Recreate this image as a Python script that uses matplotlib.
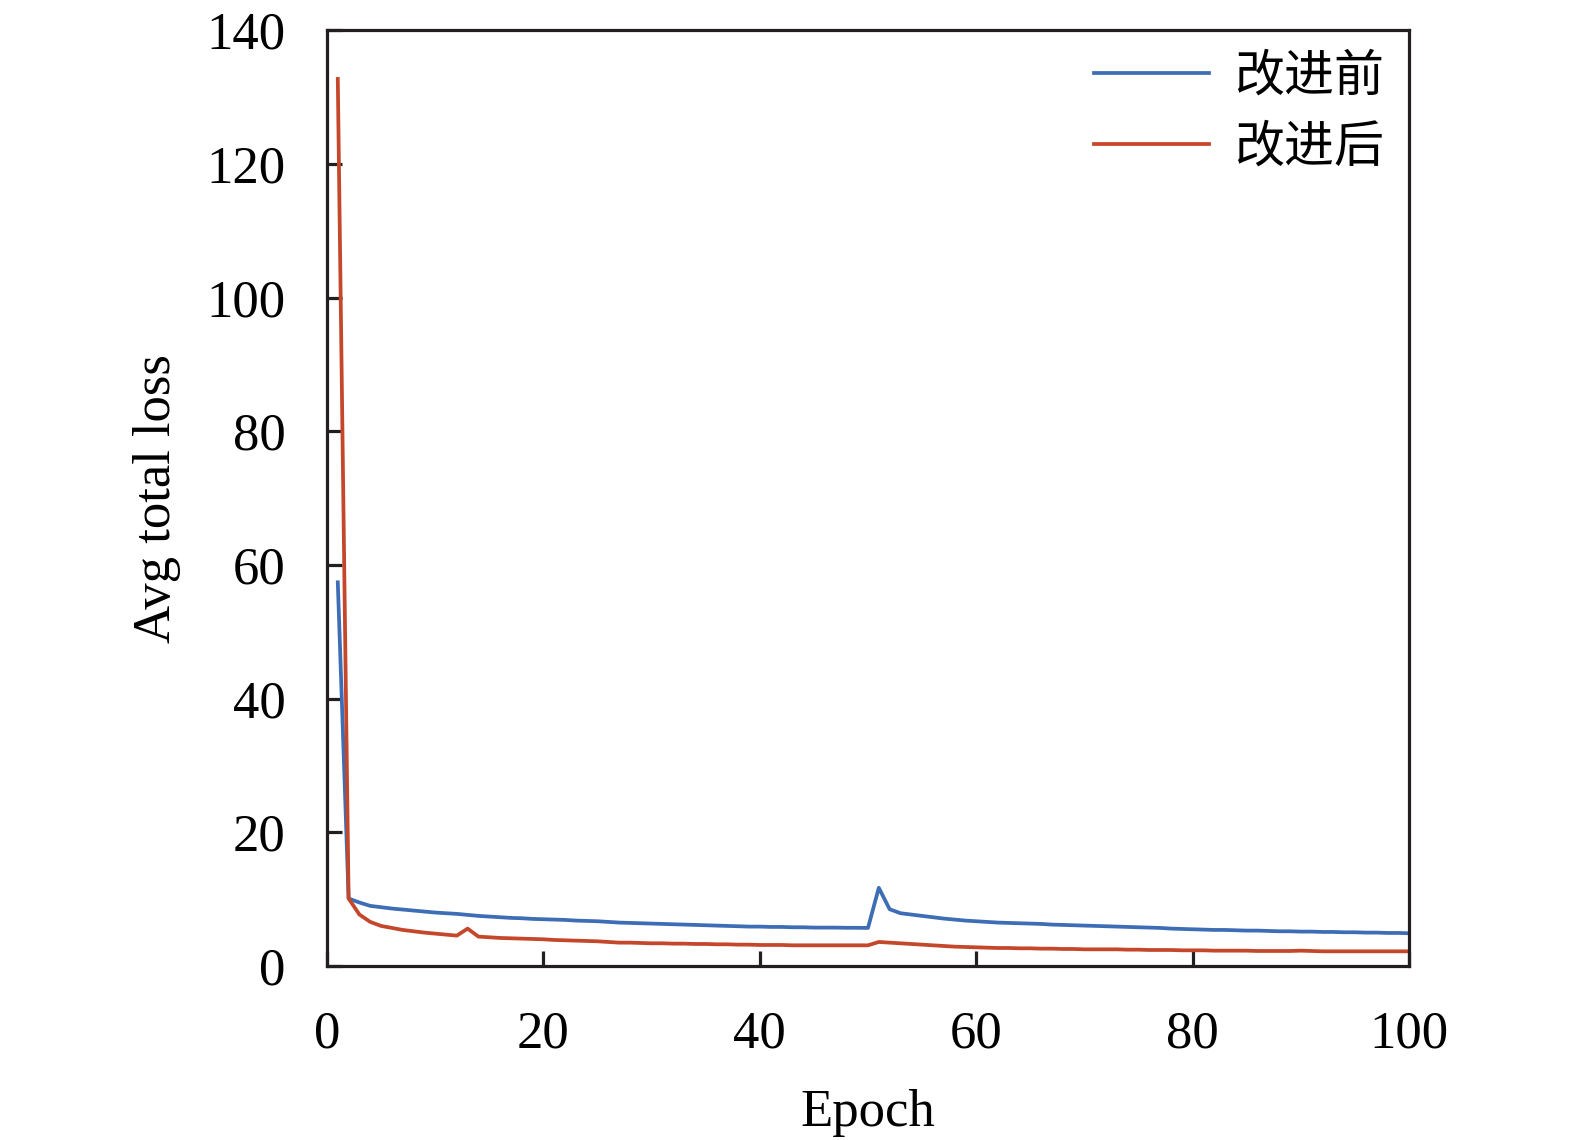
import matplotlib
matplotlib.use('Agg')
import matplotlib.pyplot as plt

plt.rcParams['font.family'] = ['Liberation Serif', 'Noto Sans CJK SC', 'DejaVu Sans']

epochs = list(range(1, 101))

# loss before improvement (blue)
loss_before = [
    57.4, 10.1, 9.5, 9.0, 8.8, 8.6, 8.45, 8.3, 8.15, 8.0,
    7.9, 7.8, 7.65, 7.5, 7.4, 7.3, 7.2, 7.15, 7.05, 7.0,
    6.95, 6.9, 6.8, 6.75, 6.7, 6.6, 6.5, 6.45, 6.4, 6.35,
    6.3, 6.25, 6.2, 6.15, 6.1, 6.05, 6.0, 5.95, 5.9, 5.9,
    5.85, 5.85, 5.8, 5.8, 5.75, 5.75, 5.75, 5.72, 5.72, 5.7,
    11.7, 8.5, 7.9, 7.7, 7.5, 7.3, 7.1, 6.95, 6.8, 6.7,
    6.6, 6.5, 6.45, 6.4, 6.35, 6.3, 6.2, 6.15, 6.1, 6.05,
    6.0, 5.95, 5.9, 5.85, 5.8, 5.75, 5.7, 5.6, 5.55, 5.5,
    5.45, 5.4, 5.4, 5.35, 5.3, 5.3, 5.25, 5.2, 5.2, 5.15,
    5.15, 5.1, 5.1, 5.05, 5.05, 5.0, 5.0, 4.95, 4.95, 4.9,
]

# loss after improvement (red)
loss_after = [
    132.7, 10.1, 7.7, 6.6, 6.0, 5.7, 5.4, 5.2, 5.0, 4.85,
    4.7, 4.55, 5.6, 4.4, 4.3, 4.2, 4.15, 4.1, 4.05, 4.0,
    3.9, 3.85, 3.8, 3.75, 3.7, 3.6, 3.5, 3.5, 3.45, 3.4,
    3.4, 3.35, 3.35, 3.3, 3.3, 3.25, 3.25, 3.2, 3.2, 3.15,
    3.15, 3.15, 3.1, 3.1, 3.1, 3.1, 3.1, 3.1, 3.1, 3.1,
    3.6, 3.5, 3.4, 3.3, 3.2, 3.1, 3.0, 2.9, 2.85, 2.8,
    2.75, 2.7, 2.7, 2.65, 2.65, 2.6, 2.6, 2.55, 2.55, 2.5,
    2.5, 2.5, 2.5, 2.45, 2.45, 2.4, 2.4, 2.4, 2.35, 2.35,
    2.35, 2.3, 2.3, 2.3, 2.3, 2.25, 2.25, 2.25, 2.25, 2.3,
    2.25, 2.2, 2.2, 2.2, 2.2, 2.2, 2.2, 2.2, 2.2, 2.2,
]

fig = plt.figure(figsize=(15.75, 11.4), dpi=100)
ax = fig.add_axes([0.2076, 0.1526, 0.687, 0.821])

ax.plot(epochs, loss_before, color='#3d6db5', lw=2.7, label='改进前')
ax.plot(epochs, loss_after, color='#c4472b', lw=2.7, label='改进后')

ax.set_xlim(0, 100)
ax.set_ylim(0, 140)
ax.set_xticks([0, 20, 40, 60, 80, 100])
ax.set_yticks([0, 20, 40, 60, 80, 100, 120, 140])

for s in ax.spines.values():
    s.set_linewidth(2.3)
    s.set_color('#231f20')
ax.tick_params(direction='in', length=11, width=2.3, color='#231f20',
               labelsize=38, top=False, right=False)
ax.tick_params(axis='x', pad=32)
ax.tick_params(axis='y', pad=30)

ax.set_xlabel('Epoch', fontsize=38, labelpad=22)
ax.set_ylabel('Avg total loss', fontsize=38, labelpad=18)

ax.legend(loc='upper right', frameon=False, fontsize=36,
          handlelength=2.3, handletextpad=0.5, labelspacing=0.48,
          borderaxespad=0.1)

fig.savefig('out.png', dpi=100)
